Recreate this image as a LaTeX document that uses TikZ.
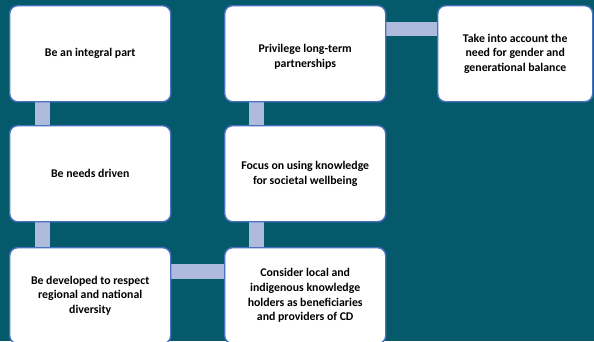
\documentclass[tikz,border=0pt]{standalone}
\usepackage{fontspec}
\setmainfont{Carlito}
\definecolor{bgteal}{HTML}{045A6A}
\definecolor{boxedge}{HTML}{4A70C0}
\definecolor{linkfill}{HTML}{AEBBDD}
\begin{document}
\begin{tikzpicture}[x=1bp,y=-1bp,
  card/.style={draw=boxedge,line width=1.4bp,fill=white,rounded corners=8bp,
    minimum width=161bp,minimum height=96bp,anchor=north west,inner sep=0pt},
  cardtext/.style={align=center,font=\fontsize{11.8bp}{14.7bp}\selectfont\bfseries},
  link/.style={fill=linkfill,draw=none}]
\fill[bgteal] (0,0) rectangle (594,341);
\useasboundingbox (0,0) rectangle (594,341);
% connectors first
\fill[link] (35,100) rectangle (50,126);
\fill[link] (35,221) rectangle (50,248);
\fill[link] (249,100) rectangle (264,126);
\fill[link] (249,221) rectangle (264,248);
\fill[link] (383,22) rectangle (438,36);
\fill[link] (169,264) rectangle (225,279);
% cards
\node[card] (a) at (9,5) {};
\node[card] (b) at (9,125) {};
\node[card] (c) at (9,247) {};
\node[card] (d) at (224,5) {};
\node[card] (e) at (224,125) {};
\node[card] (f) at (224,247) {};
\node[card,minimum width=155bp] (g) at (437,5) {};
\node[cardtext] (ta) at (a.center) {Be an integral part};
\node[cardtext] (tb) at (b.center) {Be needs driven};
\node[cardtext] (tc) at (c.center) {Be developed to respect\\regional and national\\diversity};
\node[cardtext] (td) at ([yshift=-3bp]d.center) {Privilege long-term\\partnerships};
\node[cardtext] (te) at (e.center) {Focus on using knowledge\\for societal wellbeing};
\node[cardtext] (tf) at (f.center) {Consider local and\\indigenous knowledge\\holders as beneficiaries\\and providers of CD};
\node[cardtext] (tg) at (g.center) {Take into account the\\need for gender and\\generational balance};
\end{tikzpicture}
\end{document}
